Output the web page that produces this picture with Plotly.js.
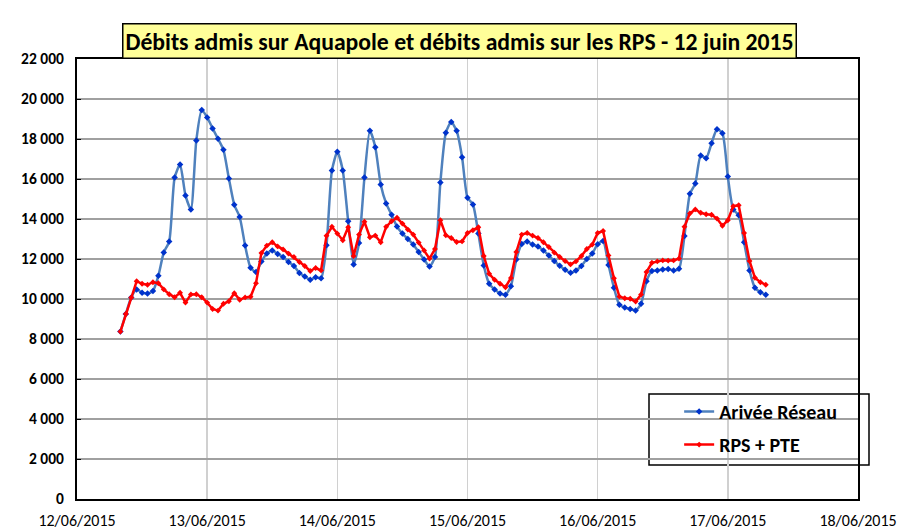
<!DOCTYPE html>
<html>
<head>
<meta charset="utf-8">
<script src="https://cdn.plot.ly/plotly-3.0.1.min.js"></script>
<style>
html,body{margin:0;padding:0;background:#fff;}
#chart{width:900px;height:532px;}
</style>
</head>
<body>
<div id="chart"></div>
<script>
// Hourly series, starting 12/06/2015 08:00
var startTime = '2015-06-12T08:00:00';
var seriesNames = ['Arivée Réseau', 'RPS + PTE'];
var xTickLabels = ['12/06/2015','13/06/2015','14/06/2015','15/06/2015','16/06/2015','17/06/2015','18/06/2015'];

var arriveeReseau = [
  8370, 9250, 10080, 10480, 10310, 10280, 10400, 11160, 12330, 12870, 16070, 16720, 15180, 14480, 17930, 19450,
  19080, 18530, 18010, 17460, 16030, 14710, 14100, 12670, 11560, 11350, 11870, 12270, 12430, 12250, 12100, 11850, 11650, 11300, 11130, 10960, 11090, 11040, 12690, 16420,
  17360, 16430, 13890, 11730, 12800, 16080, 18410, 17590, 15730, 14780, 14210, 13620, 13270, 13000, 12720, 12350, 11980, 11630, 12100, 15830, 18310, 18850, 18410, 17090,
  15060, 14730, 13270, 11680, 10760, 10480, 10280, 10210, 10640, 11970, 12750, 12880, 12720, 12620, 12430, 12180, 11900, 11660, 11460, 11310, 11430, 11650, 12000, 12270,
  12740, 12900, 11700, 10560, 9710, 9570, 9500, 9420, 9760, 10890, 11400, 11430, 11480, 11500, 11430, 11510, 13150, 15260, 15770, 17170, 17040, 17790, 18490, 18290,
  16120, 14480, 14190, 12840, 11430, 10560, 10340, 10210
];

var rpsPte = [
  8370, 9250, 10070, 10890, 10760, 10710, 10840, 10790, 10480, 10240, 10090, 10310, 9820, 10230, 10240, 10090,
  9820, 9500, 9420, 9760, 9890, 10290, 9960, 10080, 10110, 10790, 12300, 12670, 12840, 12630, 12480, 12270, 12100, 11850, 11650, 11400, 11550, 11430, 13160, 13610,
  13270, 12940, 13590, 12150, 13220, 13860, 13090, 13170, 12840, 13610, 13890, 14060, 13770, 13470, 13220, 12820, 12430, 12020, 12500, 13940, 13190, 13050, 12850, 12880,
  13300, 13440, 13590, 12150, 11260, 10960, 10760, 10590, 11050, 12350, 13220, 13300, 13170, 13050, 12840, 12600, 12320, 12100, 11900, 11730, 11880, 12150, 12500, 12720,
  13300, 13400, 12180, 11040, 10120, 10040, 10010, 9870, 10220, 11350, 11810, 11880, 11930, 11920, 11930, 12020, 13610, 14280, 14480, 14310, 14240, 14210, 14020, 13660,
  13940, 14640, 14690, 13300, 11900, 11060, 10840, 10710
];

function hourlyTimes(start, n) {
  var t0 = new Date(start + 'Z').getTime();
  var out = [];
  for (var i = 0; i < n; i++) {
    var d = new Date(t0 + i * 3600000);
    out.push(d.toISOString().slice(0, 19).replace('T', ' '));
  }
  return out;
}

var xTimes = hourlyTimes(startTime, arriveeReseau.length);
var tickVals = ['2015-06-12','2015-06-13','2015-06-14','2015-06-15','2015-06-16','2015-06-17','2015-06-18'];
var yTicks = [0,2000,4000,6000,8000,10000,12000,14000,16000,18000,20000,22000];

var traces = [
  {
    x: xTimes, y: arriveeReseau, name: seriesNames[0], type: 'scatter', mode: 'lines+markers',
    legendgroup: 'a',
    line: {color: '#4F81BD', width: 2.5, shape: 'spline', smoothing: 0.6},
    marker: {symbol: 'diamond', size: 5, color: '#0033CC'}
  },
  {
    x: xTimes, y: rpsPte, name: seriesNames[1], type: 'scatter', mode: 'lines+markers',
    legendgroup: 'b',
    line: {color: '#FF0000', width: 2.5},
    marker: {symbol: 'diamond', size: 4.5, color: '#FF0000'}
  }
];

var font = 'Carlito, Calibri, "Liberation Sans Narrow", "Open Sans", sans-serif';

var layout = {
  width: 900, height: 532,
  margin: {l: 77, r: 42, t: 59, b: 33},
  paper_bgcolor: '#fff', plot_bgcolor: '#fff',
  separators: ', ',
  showlegend: true,
  font: {family: font, color: '#000'},
  xaxis: {
    type: 'date',
    range: ['2015-06-12', '2015-06-18'],
    tickmode: 'array', tickvals: tickVals, ticktext: xTickLabels,
    tickfont: {size: 16, family: font, color: '#000'},
    showgrid: true, gridcolor: '#d0d0d0', gridwidth: 1.5,
    showline: true, linecolor: '#000', linewidth: 2, mirror: true,
    ticks: 'outside', ticklen: 6, tickcolor: 'rgba(0,0,0,0)', zeroline: false
  },
  yaxis: {
    range: [0, 22000],
    tickmode: 'array', tickvals: yTicks,
    tickformat: ',d',
    tickfont: {size: 15.5, family: font, color: '#000', weight: 'bold'},
    ticklabelstandoff: 8,
    showgrid: true, gridcolor: '#a0a0a0', gridwidth: 1.5,
    showline: true, linecolor: '#000', linewidth: 2, mirror: true,
    ticks: 'inside', ticklen: 4, tickcolor: '#000',
    zeroline: false
  },
  legend: {
    x: 0.771, y: 0.243, xanchor: 'left', yanchor: 'top',
    bgcolor: 'rgba(0,0,0,0)', borderwidth: 0,
    font: {size: 20, family: font, color: '#000', weight: 'bold'},
    tracegroupgap: 4
  },
  shapes: [{
    type: 'rect', xref: 'paper', yref: 'paper', layer: 'below',
    x0: (649 - 77) / 781, x1: (869 - 77) / 781,
    y0: (499 - 465) / 440, y1: (499 - 394) / 440,
    line: {color: '#000', width: 1.5}, fillcolor: '#fff'
  }],
  annotations: [{
    xref: 'paper', yref: 'paper', x: 0.49, y: 1.0, yshift: 18.5,
    xanchor: 'center', yanchor: 'middle', showarrow: false,
    text: '<b>Débits admis sur Aquapole et débits admis sur les RPS - 12 juin 2015</b>',
    font: {size: 23.7, family: font, color: '#000'},
    bgcolor: '#FFFF99', bordercolor: '#000', borderwidth: 1.5, borderpad: 2
  }]
};

Plotly.newPlot('chart', traces, layout, {displayModeBar: false, staticPlot: true});
</script>
</body>
</html>
